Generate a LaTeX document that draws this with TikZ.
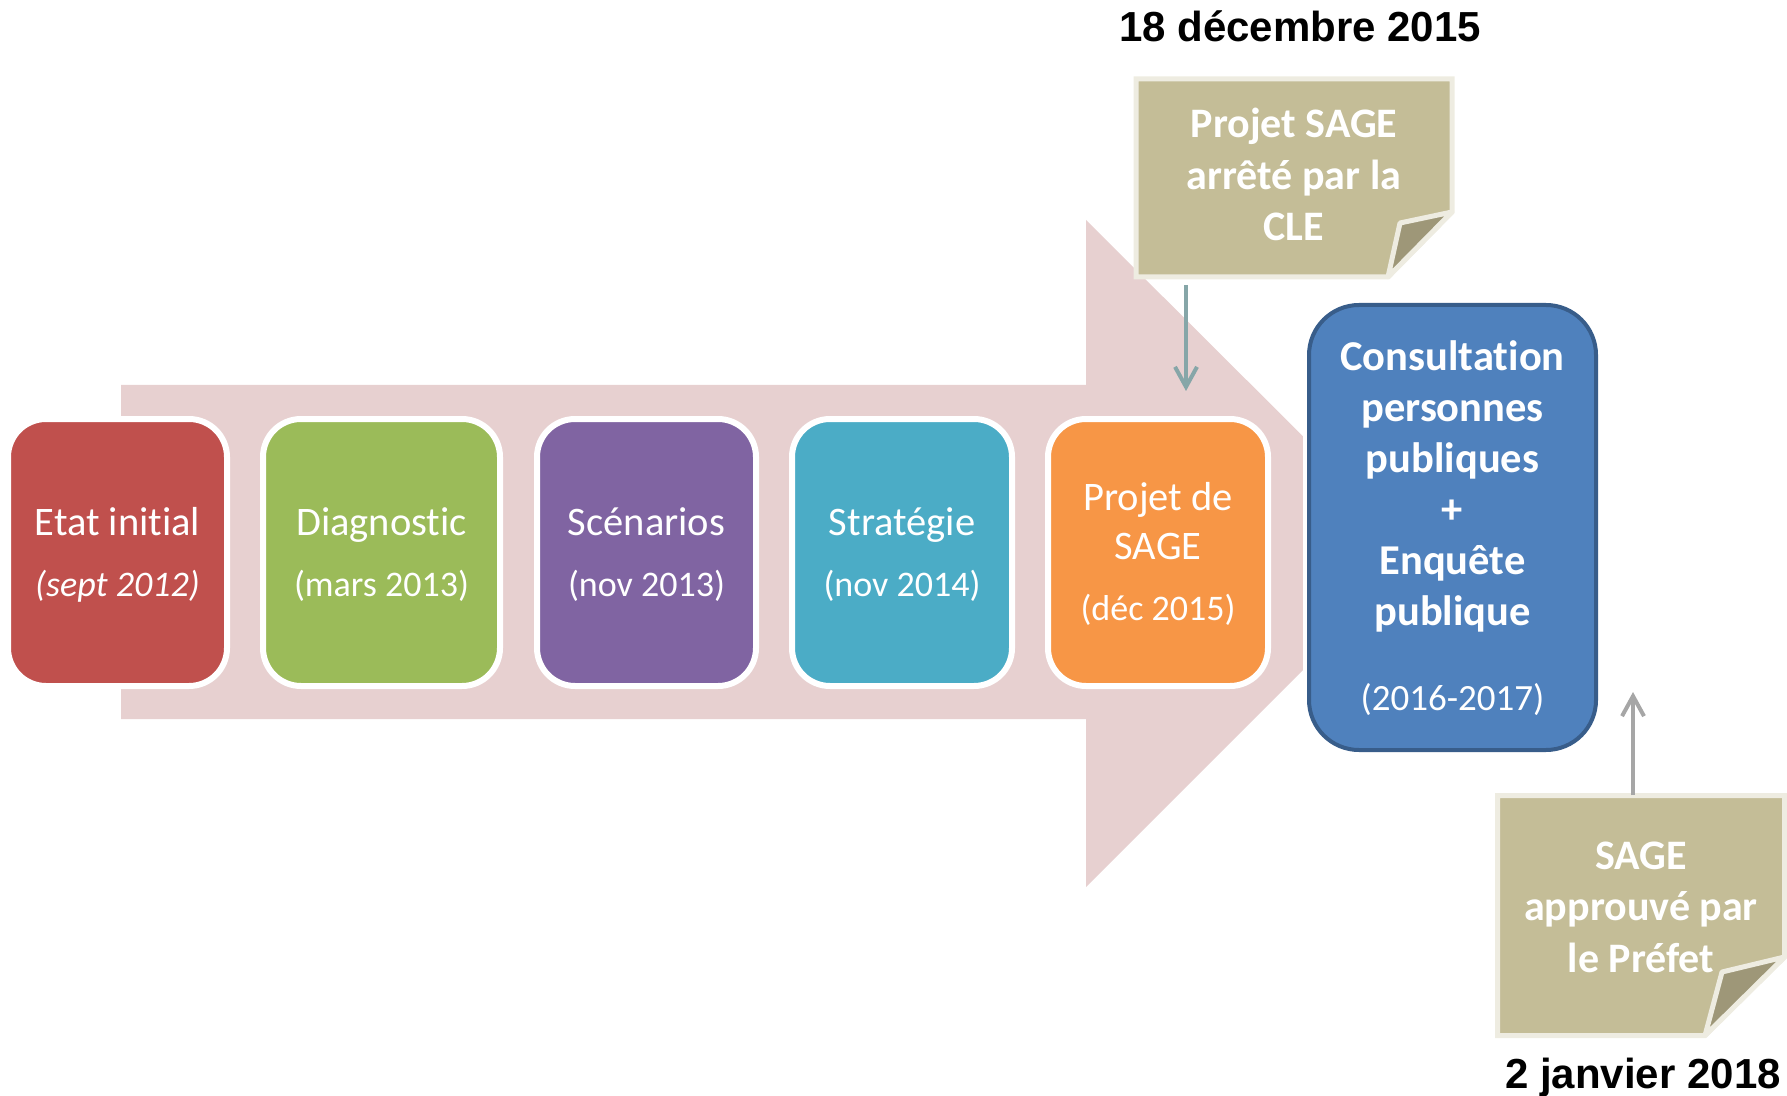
\documentclass[tikz,border=0pt]{standalone}
\usepackage{fontspec}
\setmainfont{Carlito}[Ligatures=NoCommon]
\newfontfamily\headfont{Liberation Sans}
\usetikzlibrary{arrows.meta}
\definecolor{pinkarrow}{RGB}{231,208,208}
\definecolor{cred}{RGB}{192,80,77}
\definecolor{cgreen}{RGB}{155,187,89}
\definecolor{cpurple}{RGB}{128,100,162}
\definecolor{cteal}{RGB}{75,172,198}
\definecolor{corange}{RGB}{247,150,70}
\definecolor{cblue}{RGB}{79,129,189}
\definecolor{cblueborder}{RGB}{56,93,138}
\definecolor{tanfill}{RGB}{196,189,151}
\definecolor{tanflap}{RGB}{158,151,120}
\definecolor{cream}{RGB}{238,236,225}
\definecolor{arrowteal}{RGB}{134,166,168}
\definecolor{arrowgray}{RGB}{166,166,166}
\newcommand{\dsz}{\fontsize{18}{24.5}\selectfont}
\begin{document}
\begin{tikzpicture}[x=0.5pt,y=-0.5pt,
  stepbox/.style={draw=white, line width=3pt, rounded corners=19pt, minimum height=133.5pt, inner sep=0pt, outer sep=0pt},
  steplbl/.style={text=white, align=center, anchor=base, inner sep=0pt, font=\fontsize{20.25}{24.5}\selectfont},
  notebody/.style={fill=tanfill, draw=cream, line width=2.5pt, line join=miter},
  noteflap/.style={fill=tanflap, draw=cream, line width=2.5pt, line join=round},
  notetext/.style={text=white, align=center, anchor=base, inner sep=0pt, font=\bfseries\fontsize{21}{25.75}\selectfont},
  headtxt/.style={anchor=base, inner sep=0pt, font=\headfont\bfseries\fontsize{21}{25}\selectfont},
  callarrow/.style={line width=2pt, -{Straight Barb[length=10pt, width=11pt]}}
]
\useasboundingbox (0,0) rectangle (1787,1096);
% big background arrow
\fill[pinkarrow] (121,385) -- (1086,385) -- (1086,220) -- (1420,553) -- (1086,887) -- (1086,719) -- (121,719) -- cycle;
% step boxes
\node[stepbox, fill=cred, minimum width=109.5pt] (b1) at (117.5,552.5) {};
\node[stepbox, fill=cgreen, minimum width=118.5pt] (b2) at (381.5,552.5) {};
\node[stepbox, fill=cpurple, minimum width=109.5pt] (b3) at (646.5,552.5) {};
\node[stepbox, fill=cteal, minimum width=110pt] (b4) at (902,552.5) {};
\node[stepbox, fill=corange, minimum width=110pt] (b5) at (1158,552.5) {};
\node[steplbl] (l1) at (117.5,596) {Etat initial\\[6pt]{\dsz\itshape (sept 2012)}};
\node[steplbl] (l2) at (381.5,596) {Diagnostic\\[6pt]{\dsz (mars 2013)}};
\node[steplbl] (l3) at (646.5,596) {Scénarios\\[6pt]{\dsz (nov 2013)}};
\node[steplbl] (l4) at (902,596) {Stratégie\\[6pt]{\dsz (nov 2014)}};
\node[steplbl] (l5) at (1158,620) {Projet de\\SAGE\\[6pt]{\dsz (déc 2015)}};
% consultation box
\node[draw=cblueborder, fill=cblue, line width=2pt, rounded corners=25pt, minimum width=143.5pt, minimum height=222.5pt, inner sep=0pt, preaction={draw=white, line width=6pt}] (cons) at (1452.5,527.5) {};
\node[text=white, align=center, anchor=base, inner sep=0pt, font=\bfseries\fontsize{21.25}{25.5}\selectfont] (ctext) at (1452.5,710) {Consultation\\personnes\\publiques\\+\\Enquête\\publique\\[17pt]{\mdseries\fontsize{18.5}{25.5}\selectfont (2016-2017)}};
% note 1
\filldraw[notebody] (1136,79) -- (1452,79) -- (1452,212) -- (1388,277) -- (1136,277) -- cycle;
\filldraw[noteflap] (1452,212) -- (1400,223) -- (1388,277) -- cycle;
\node[notetext] (n1) at (1294,241) {Projet SAGE\\arrêté par la\\CLE};
% note 2
\filldraw[notebody] (1497.5,795.5) -- (1784.5,795.5) -- (1784.5,957) -- (1705,1035.5) -- (1497.5,1035.5) -- cycle;
\filldraw[noteflap] (1784.5,957) -- (1722,972) -- (1705,1035.5) -- cycle;
\node[notetext] (n2) at (1641,972) {SAGE\\approuvé par\\le Préfet};
% arrows
\coordinate (a1s) at (1186,285);
\coordinate (a1e) at (1186,391);
\draw[callarrow, arrowteal] (a1s) -- (a1e);
\coordinate (a2s) at (1633,795);
\coordinate (a2e) at (1633,692);
\draw[callarrow, arrowgray] (a2s) -- (a2e);
% dates
\node[headtxt] (d1) at (1300,42) {18 décembre 2015};
\node[headtxt] (d2) at (1643,1088) {2 janvier 2018};
\end{tikzpicture}
\end{document}
